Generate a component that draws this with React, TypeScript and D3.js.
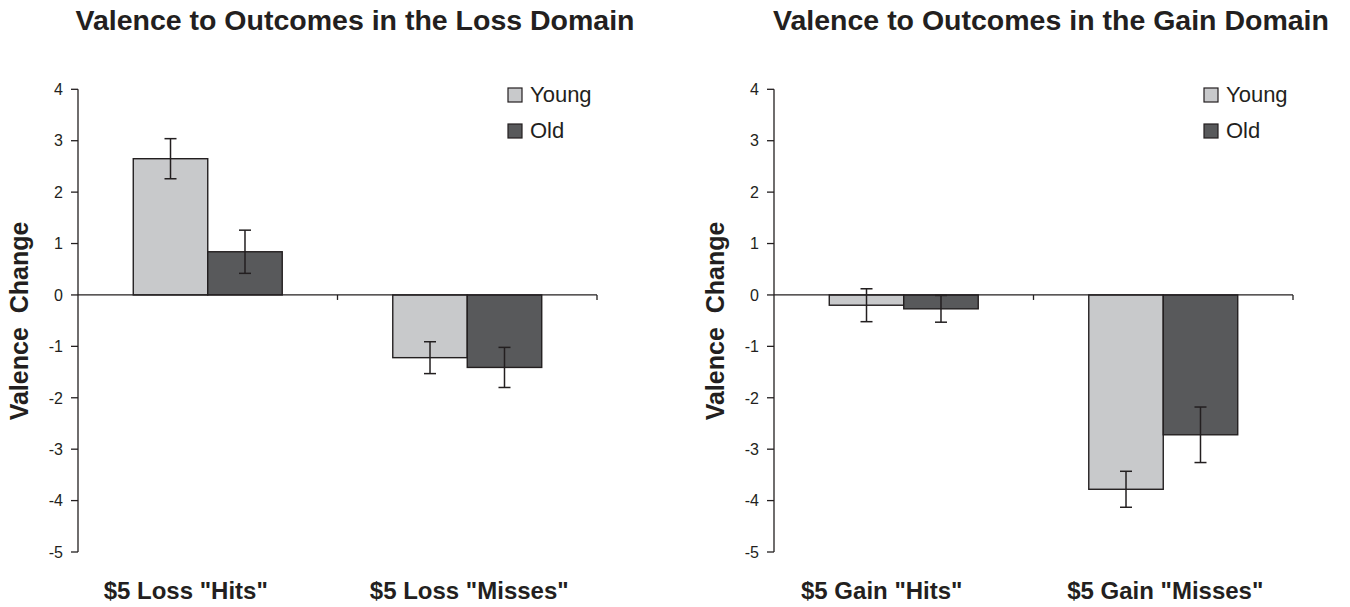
import * as d3 from "d3";
import React from "react";

// values
const groups = ["Young", "Old"];
const lossCategories = ['$5 Loss "Hits"', '$5 Loss "Misses"'];
const gainCategories = ['$5 Gain "Hits"', '$5 Gain "Misses"'];

const lossYoung = [2.65, -1.22];
const lossYoungErr = [0.39, 0.31];
const lossOld = [0.84, -1.41];
const lossOldErr = [0.42, 0.39];

const gainYoung = [-0.2, -3.78];
const gainYoungErr = [0.32, 0.35];
const gainOld = [-0.27, -2.72];
const gainOldErr = [0.26, 0.54];

const yTicks = [4, 3, 2, 1, 0, -1, -2, -3, -4, -5];

const WIDTH = 1350;
const HEIGHT = 607;
const INK = "#231f20";
const FONT = "Liberation Sans, Arial, sans-serif";
const colors: Record<string, string> = { Young: "#c8c9cb", Old: "#58595b" };
const labelShift = [-22, 2];

type PanelProps = {
    offsetX: number;
    title: string;
    categories: string[];
    young: number[];
    youngErr: number[];
    old: number[];
    oldErr: number[];
};

function Panel({ offsetX, title, categories, young, youngErr, old, oldErr }: PanelProps) {
    const left = 78;
    const right = 597;

    const y = d3.scaleLinear().domain([-5, 4]).range([552, 89.3]);
    const x0 = d3.scaleBand<string>().domain(categories).range([left, right]).padding(0);
    const x1 = d3.scaleBand<string>()
        .domain(groups)
        .range([0, x0.bandwidth()])
        .paddingInner(0)
        .paddingOuter(0.742);

    const rows = categories.map((c, i) => ({
        cat: c,
        bars: [
            { group: "Young", value: young[i], err: youngErr[i] },
            { group: "Old", value: old[i], err: oldErr[i] },
        ],
    }));

    const capHalf = 6;

    return (
        <g transform={`translate(${offsetX},0)`}>
            <text
                x={355}
                y={30}
                textAnchor="middle"
                fontFamily={FONT}
                fontWeight="bold"
                fontSize={28.5}
                fill={INK}
            >
                {title}
            </text>

            {/* y axis label */}
            <text
                transform={`translate(28,321) rotate(-90)`}
                textAnchor="middle"
                fontFamily={FONT}
                fontWeight="bold"
                fontSize={25}
                fill={INK}
                style={{ whiteSpace: "pre" }}
            >
                {"Valence  Change"}
            </text>

            {/* bars */}
            {rows.map((r) => (
                <g key={r.cat} transform={`translate(${x0(r.cat)},0)`}>
                    {r.bars.map((b) => (
                        <rect
                            key={b.group}
                            x={x1(b.group)}
                            y={y(Math.max(0, b.value))}
                            width={x1.bandwidth()}
                            height={Math.abs(y(b.value) - y(0))}
                            fill={colors[b.group]}
                            stroke={INK}
                            strokeWidth={1.4}
                        />
                    ))}
                </g>
            ))}

            {/* y axis */}
            <line x1={left} x2={left} y1={y(4)} y2={y(-5)} stroke={INK} strokeWidth={1.3} />
            {yTicks.map((t) => (
                <g key={t}>
                    <line x1={left - 7} x2={left} y1={y(t)} y2={y(t)} stroke={INK} strokeWidth={1.3} />
                    <text
                        x={left - 15}
                        y={y(t)}
                        dy="0.36em"
                        textAnchor="end"
                        fontFamily={FONT}
                        fontSize={16}
                        fill={INK}
                    >
                        {t}
                    </text>
                </g>
            ))}

            {/* zero baseline with category ticks */}
            <line x1={left} x2={right} y1={y(0)} y2={y(0)} stroke={INK} strokeWidth={1.3} />
            {categories.map((c) => (
                <line
                    key={c}
                    x1={(x0(c) ?? 0) + x0.bandwidth()}
                    x2={(x0(c) ?? 0) + x0.bandwidth()}
                    y1={y(0)}
                    y2={y(0) + 5}
                    stroke={INK}
                    strokeWidth={1.3}
                />
            ))}

            {/* error bars */}
            {rows.map((r) => (
                <g key={r.cat + "err"} transform={`translate(${x0(r.cat)},0)`}>
                    {r.bars.map((b) => {
                        const cx = (x1(b.group) ?? 0) + x1.bandwidth() / 2;
                        return (
                            <g key={b.group} stroke={INK} strokeWidth={1.5}>
                                <line x1={cx} x2={cx} y1={y(b.value + b.err)} y2={y(b.value - b.err)} />
                                <line x1={cx - capHalf} x2={cx + capHalf} y1={y(b.value + b.err)} y2={y(b.value + b.err)} />
                                <line x1={cx - capHalf} x2={cx + capHalf} y1={y(b.value - b.err)} y2={y(b.value - b.err)} />
                            </g>
                        );
                    })}
                </g>
            ))}

            {/* category labels */}
            {categories.map((c, i) => (
                <text
                    key={c}
                    x={(x0(c) ?? 0) + x0.bandwidth() / 2 + labelShift[i]}
                    y={599}
                    textAnchor="middle"
                    fontFamily={FONT}
                    fontWeight="bold"
                    fontSize={24}
                    fill={INK}
                >
                    {c}
                </text>
            ))}

            {/* legend */}
            {groups.map((g, i) => (
                <g key={g} transform={`translate(508,${88 + i * 36})`}>
                    <rect x={0} y={0} width={14} height={14} fill={colors[g]} stroke={INK} strokeWidth={1.2} />
                    <text x={22} y={14} fontFamily={FONT} fontSize={22} fill={INK}>
                        {g}
                    </text>
                </g>
            ))}
        </g>
    );
}

export default function App() {
    return (
        <svg
            width={WIDTH}
            height={HEIGHT}
            style={{ position: "absolute", left: 0, top: 0, background: "#fff" }}
        >
            <Panel
                offsetX={0}
                title="Valence to Outcomes in the Loss Domain"
                categories={lossCategories}
                young={lossYoung}
                youngErr={lossYoungErr}
                old={lossOld}
                oldErr={lossOldErr}
            />
            <Panel
                offsetX={696}
                title="Valence to Outcomes in the Gain Domain"
                categories={gainCategories}
                young={gainYoung}
                youngErr={gainYoungErr}
                old={gainOld}
                oldErr={gainOldErr}
            />
        </svg>
    );
}
